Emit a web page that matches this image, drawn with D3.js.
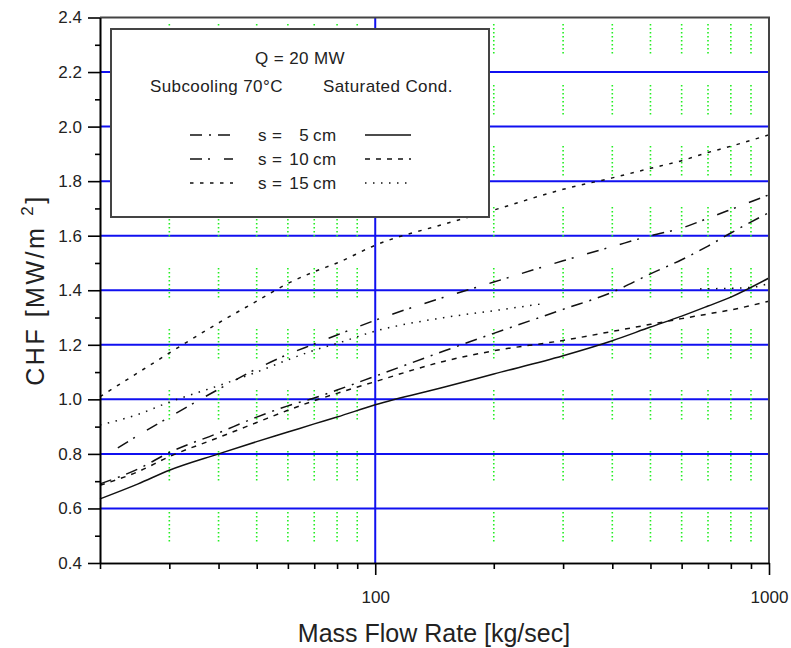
<!DOCTYPE html>
<html>
<head>
<meta charset="utf-8">
<script src="https://cdn.jsdelivr.net/npm/d3@7"></script>
<style>
  body { margin: 0; background: #fff; }
  svg { display: block; font-family: Arial, "Liberation Sans", sans-serif; }
  .axis path, .axis line { stroke: #000; stroke-width: 1.6; }
  .axis text { font-size: 17px; fill: #222; }
  .lg text { font-size: 17px; fill: #222; letter-spacing: 0.4px; }
</style>
</head>
<body>
<svg width="791" height="648"></svg>
<script>
// mass flow rate (kg/sec) sample points
var flow = [20, 25, 30, 40, 50, 60, 70, 80, 100, 150, 200, 300, 400, 500, 600, 700, 800, 1000];

// CHF (MW/m2), subcooling 70 C
var sub5  = [0.69, 0.745, 0.805, 0.877, 0.935, 0.976, 1.005, 1.034, 1.085, 1.178, 1.242, 1.33, 1.393, 1.46, 1.512, 1.562, 1.61, 1.685];
var sub10 = [null, 0.868, 0.935, 1.037, 1.112, 1.165, 1.203, 1.236, 1.29, 1.375, 1.43, 1.508, 1.56, 1.6, 1.628, 1.664, 1.696, 1.75];
var sub15 = [1.01, 1.098, 1.17, 1.28, 1.36, 1.425, 1.468, 1.5, 1.565, 1.643, 1.694, 1.77, 1.812, 1.847, 1.875, 1.905, 1.928, 1.97];

// CHF (MW/m2), saturated condition
var sat5  = [0.635, 0.69, 0.74, 0.8, 0.845, 0.88, 0.91, 0.935, 0.98, 1.045, 1.093, 1.16, 1.215, 1.265, 1.305, 1.342, 1.375, 1.445];
var sat10 = [0.685, 0.735, 0.79, 0.86, 0.915, 0.96, 0.995, 1.022, 1.065, 1.14, 1.178, 1.216, 1.249, 1.275, 1.296, 1.313, 1.328, 1.36];
var sat15Flow = [20, 25, 30, 40, 50, 60, 70, 80, 100, 150, 200, 270, 400, 668, 894, 1000];
var sat15     = [0.906, 0.945, 0.99, 1.05, 1.1, 1.145, 1.18, 1.205, 1.25, 1.3, 1.325, 1.352, null, 1.405, 1.41, 1.425];

var sub10Start = [22.2, 0.822];   // this curve begins a little right of the axis

var yMajor = [0.4, 0.6, 0.8, 1.0, 1.2, 1.4, 1.6, 1.8, 2.0, 2.2, 2.4];
var yMinor = [0.5, 0.7, 0.9, 1.1, 1.3, 1.5, 1.7, 1.9, 2.1, 2.3];
var xMajor = [100, 1000];
var xMinor = [20, 30, 40, 50, 60, 70, 80, 90, 200, 300, 400, 500, 600, 700, 800, 900];
var xGreen = [30, 40, 50, 60, 70, 80, 90, 200, 300, 400, 500, 600, 700, 800, 900];

var svg = d3.select("svg");

var xScale = d3.scaleLog().domain([20, 1000]).range([100, 769]);
var yScale = d3.scaleLinear().domain([0.4, 2.4]).range([563, 17.5]);

// blue grid
var grid = svg.append("g");
grid.selectAll("line.h")
  .data(yMajor.filter(d => d > 0.5 && d < 2.3))
  .enter().append("line")
  .attr("x1", xScale(20)).attr("x2", xScale(1000))
  .attr("y1", d => yScale(d)).attr("y2", d => yScale(d))
  .attr("stroke", "#1010f0").attr("stroke-width", 2);
grid.append("line")
  .attr("x1", xScale(100)).attr("x2", xScale(100))
  .attr("y1", yScale(2.4)).attr("y2", yScale(0.4))
  .attr("stroke", "#1010f0").attr("stroke-width", 2);

// green dotted minor grid (dotted in short bursts)
var burst = d3.range(7).map(() => "1.5 2.5").join(" ") + " 1.5 31.5";
grid.selectAll("line.v")
  .data(xGreen)
  .enter().append("line")
  .attr("x1", d => xScale(d)).attr("x2", d => xScale(d))
  .attr("y1", yScale(2.4)).attr("y2", yScale(0.4))
  .attr("stroke", "#22ee22").attr("stroke-width", 1.6)
  .attr("stroke-dasharray", burst)
  .attr("stroke-dashoffset", 54.5);

// curves
var line = d3.line()
  .defined(d => d[1] != null)
  .x(d => xScale(d[0]))
  .y(d => yScale(d[1]))
  .curve(d3.curveMonotoneX);

var curves = [
  {vals: sat5, xs: flow, dash: null},
  {vals: sat10, xs: flow, dash: "5 6"},
  {vals: sat15, xs: sat15Flow, dash: "1.5 6.5"},
  {vals: sub5, xs: flow, dash: "12 7 2 7"},
  {vals: sub10, xs: flow, dash: "12 6 2 14"},
  {vals: sub15, xs: flow, dash: "3.5 6.5"}
];

curves.forEach(function(c) {
  var pts = c.xs.map((x, i) => [x, c.vals[i]]);
  if (c.vals === sub10) pts[0] = sub10Start;
  svg.append("path")
    .datum(pts)
    .attr("fill", "none")
    .attr("stroke", "#111")
    .attr("stroke-width", 1.5)
    .attr("stroke-dasharray", c.dash)
    .attr("d", line);
});

// frame on top and right
svg.append("path")
  .attr("d", "M" + xScale(20) + "," + yScale(2.4) + "H" + xScale(1000) + "V" + yScale(0.4))
  .attr("fill", "none")
  .attr("stroke", "#444")
  .attr("stroke-width", 2);

// axes
svg.append("g")
  .attr("class", "axis")
  .attr("transform", "translate(" + xScale(20) + ",0)")
  .call(d3.axisLeft(yScale).tickValues(yMajor).tickSize(12).tickSizeOuter(0).tickPadding(6).tickFormat(d3.format(".1f")));
svg.append("g")
  .attr("class", "axis")
  .attr("transform", "translate(" + xScale(20) + ",0)")
  .call(d3.axisLeft(yScale).tickValues(yMinor).tickSize(5).tickSizeOuter(0).tickFormat(""));

svg.append("g")
  .attr("class", "axis")
  .attr("transform", "translate(0," + yScale(0.4) + ")")
  .call(d3.axisBottom(xScale).tickValues(xMajor).tickSize(12).tickSizeOuter(0).tickPadding(16).tickFormat(d3.format("d")));
svg.append("g")
  .attr("class", "axis")
  .attr("transform", "translate(0," + yScale(0.4) + ")")
  .call(d3.axisBottom(xScale).tickValues(xMinor).tickSize(6).tickSizeOuter(0).tickFormat(""));

// axis titles
svg.append("text")
  .attr("x", 434).attr("y", 642)
  .attr("text-anchor", "middle")
  .attr("font-size", 25)
  .attr("fill", "#222")
  .text("Mass Flow Rate [kg/sec]");

var yTitle = svg.append("text")
  .attr("transform", "translate(44,290) rotate(-90)")
  .attr("text-anchor", "middle")
  .attr("font-size", 25)
  .attr("letter-spacing", 2.5)
  .attr("fill", "#222");
yTitle.append("tspan").text("CHF [MW/m");
yTitle.append("tspan").attr("font-size", 17).attr("dx", 10).attr("dy", -11).text("2");
yTitle.append("tspan").attr("dy", 11).text("]");

// legend box
var lg = svg.append("g").attr("class", "lg");
lg.append("rect")
  .attr("x", 111).attr("y", 29)
  .attr("width", 378).attr("height", 188)
  .attr("fill", "#fff")
  .attr("stroke", "#444")
  .attr("stroke-width", 2);

lg.append("text").attr("x", 300).attr("y", 64)
  .attr("text-anchor", "middle")
  .text("Q = 20 MW");
lg.append("text").attr("x", 150).attr("y", 92)
  .text("Subcooling 70°C");
lg.append("text").attr("x", 323).attr("y", 92)
  .text("Saturated Cond.");

var gaps = ["5", "10", "15"];
var leftDash = ["12 7 2 7", "12 6 2 14", "3.5 6.5"];
var rightDash = [null, "5 6", "1.5 6.5"];
var rowY = [135, 159, 183];

gaps.forEach(function(g, i) {
  lg.append("line")
    .attr("x1", 190).attr("x2", 233)
    .attr("y1", rowY[i]).attr("y2", rowY[i])
    .attr("stroke", "#111").attr("stroke-width", 1.5)
    .attr("stroke-dasharray", leftDash[i]);
  lg.append("line")
    .attr("x1", 365).attr("x2", 411)
    .attr("y1", rowY[i]).attr("y2", rowY[i])
    .attr("stroke", "#111").attr("stroke-width", 1.5)
    .attr("stroke-dasharray", rightDash[i]);
  lg.append("text").attr("x", 258).attr("y", rowY[i] + 6).text("s =");
  lg.append("text").attr("x", 309).attr("y", rowY[i] + 6)
    .attr("text-anchor", "end").text(g);
  lg.append("text").attr("x", 313).attr("y", rowY[i] + 6).text("cm");
});
</script>
</body>
</html>
